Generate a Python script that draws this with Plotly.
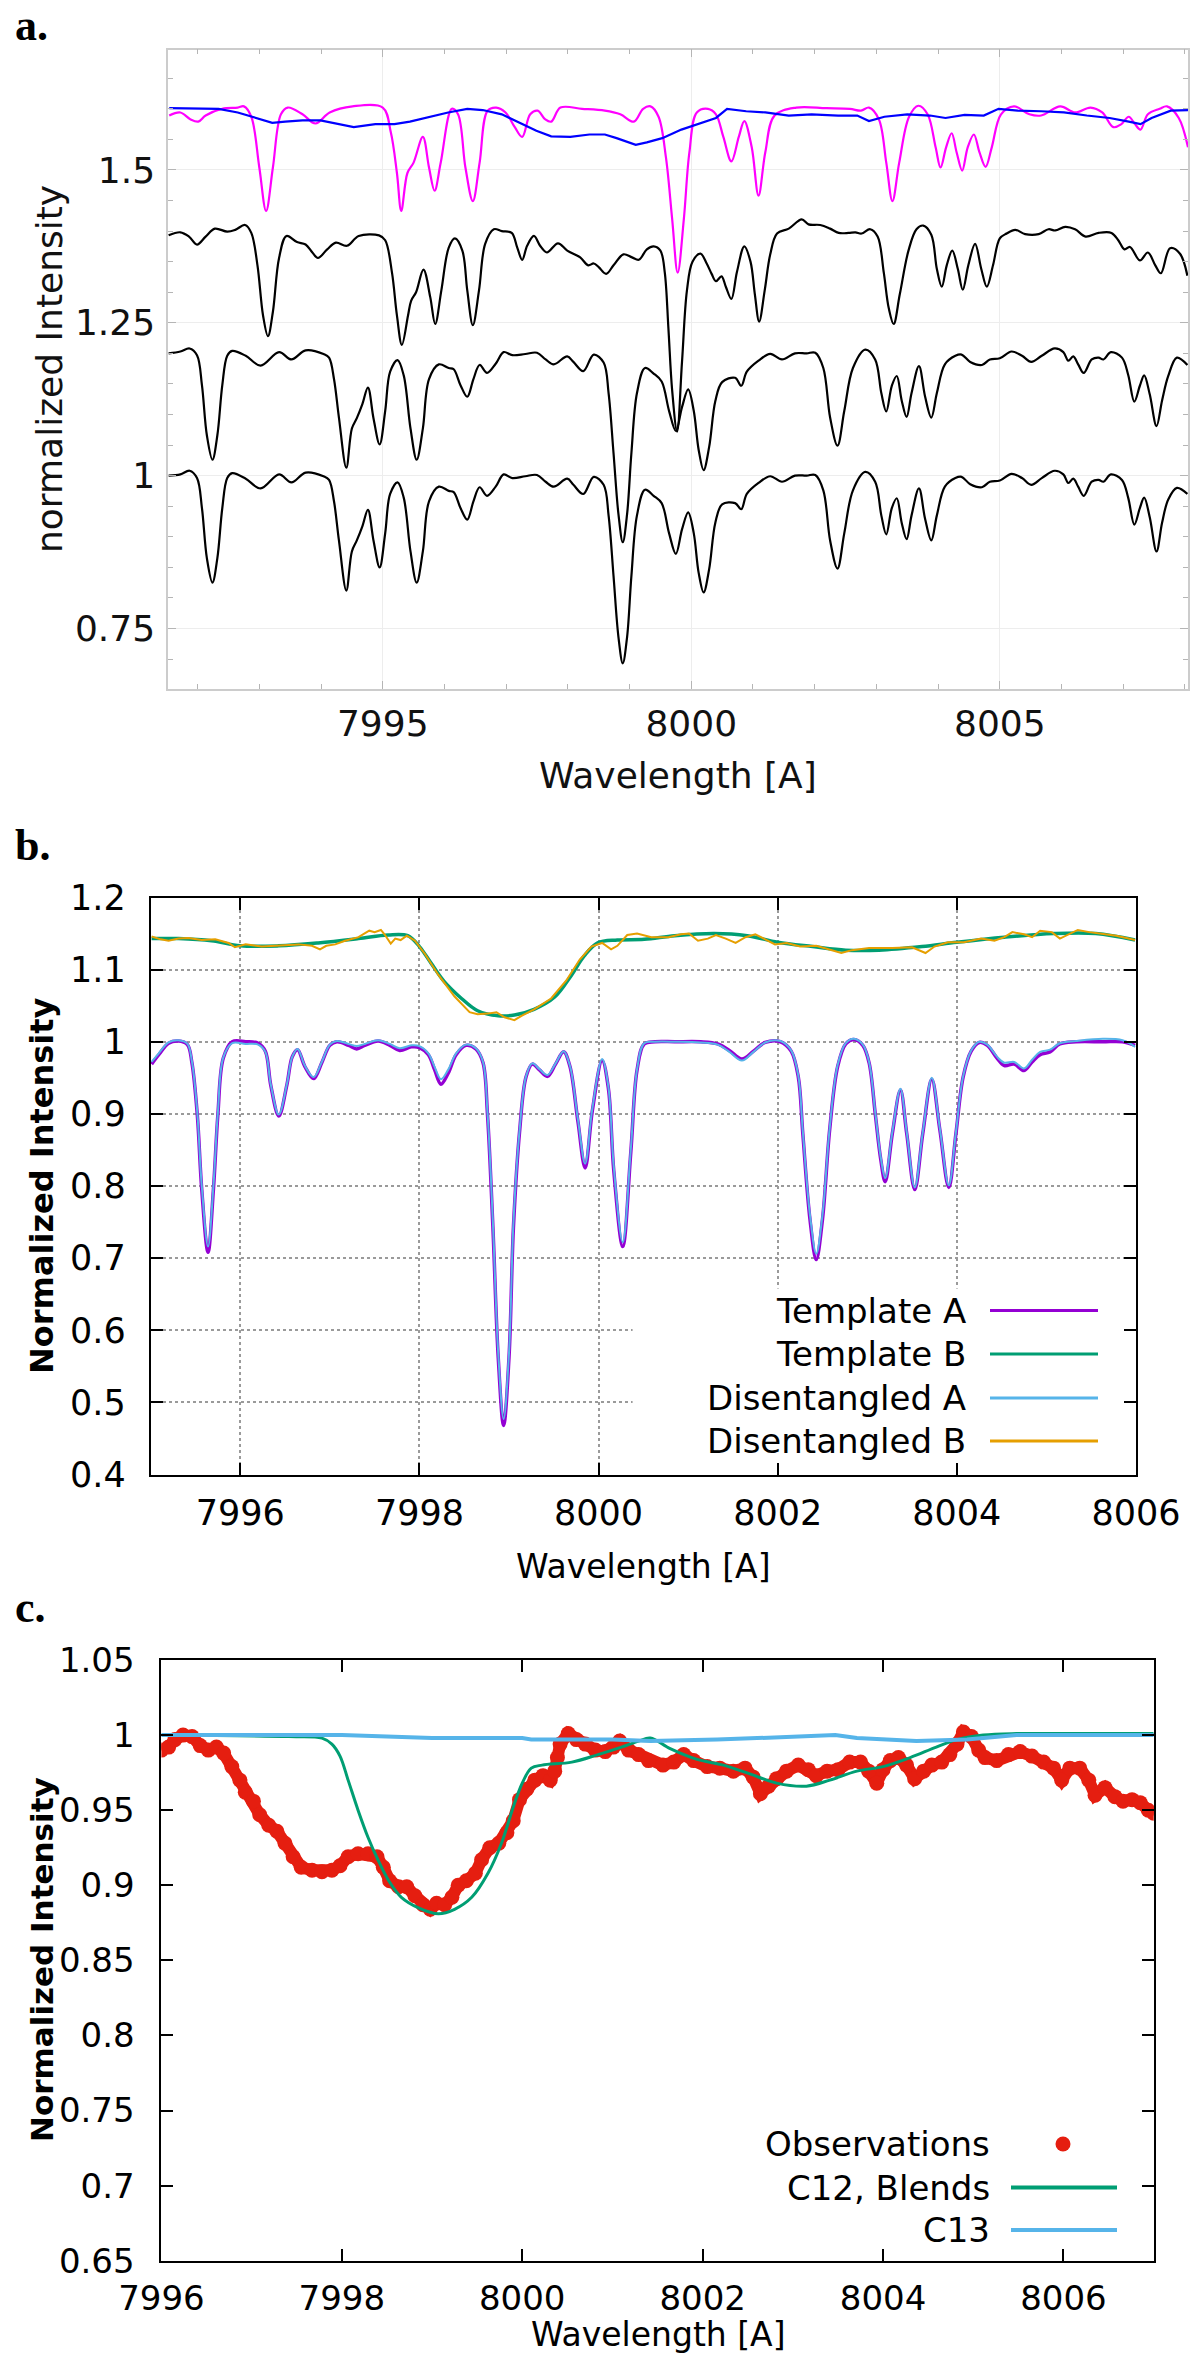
import plotly.graph_objects as go

# ---------------- panel a: offset spectra (wavelength in A) ----------------
wl_a_magenta = [
    7991.54, 7991.72, 7991.88, 7992.01, 7992.13, 7992.40, 7992.65, 7992.75, 7992.87, 7993.00,
    7993.11, 7993.22, 7993.35, 7993.46, 7993.70, 7993.91, 7994.14, 7994.51, 7995.00, 7995.13,
    7995.23, 7995.30, 7995.40, 7995.50, 7995.65, 7995.75, 7995.84, 7995.94, 7996.12, 7996.22,
    7996.34, 7996.46, 7996.57, 7996.70, 7996.84, 7996.99, 7997.14, 7997.26, 7997.39, 7997.51,
    7997.63, 7997.73, 7997.88, 7998.23, 7998.60, 7998.85, 7999.07, 7999.22, 7999.34, 7999.47,
    7999.59, 7999.69, 7999.78, 7999.88, 7999.97, 8000.09, 8000.27, 8000.40, 8000.52, 8000.65,
    8000.77, 8000.86, 8000.98, 8001.09, 8001.20, 8001.35, 8001.70, 8002.19, 8002.57, 8002.75,
    8002.88, 8003.04, 8003.16, 8003.26, 8003.37, 8003.53, 8003.68, 8003.83, 8003.96, 8004.04,
    8004.13, 8004.22, 8004.30, 8004.39, 8004.48, 8004.58, 8004.67, 8004.77, 8004.87, 8005.02,
    8005.23, 8005.48, 8005.67, 8005.98, 8006.22, 8006.47, 8006.66, 8006.84, 8006.97, 8007.09,
    8007.19, 8007.28, 8007.40, 8007.59, 8007.71, 8007.90, 8008.05]
flux_a_magenta = [
    1.589, 1.594, 1.583, 1.579, 1.589, 1.600, 1.602, 1.604, 1.587, 1.504,
    1.433, 1.504, 1.591, 1.602, 1.591, 1.576, 1.594, 1.604, 1.602, 1.562,
    1.495, 1.433, 1.495, 1.512, 1.554, 1.504, 1.466, 1.512, 1.600, 1.591,
    1.504, 1.449, 1.512, 1.597, 1.602, 1.594, 1.570, 1.554, 1.591, 1.597,
    1.583, 1.579, 1.602, 1.600, 1.597, 1.591, 1.579, 1.600, 1.604, 1.587,
    1.520, 1.420, 1.332, 1.420, 1.529, 1.594, 1.600, 1.591, 1.554, 1.514,
    1.554, 1.580, 1.537, 1.458, 1.529, 1.589, 1.602, 1.601, 1.600, 1.597,
    1.602, 1.583, 1.512, 1.449, 1.512, 1.587, 1.605, 1.591, 1.537, 1.504,
    1.537, 1.560, 1.529, 1.499, 1.537, 1.558, 1.529, 1.505, 1.537, 1.591,
    1.604, 1.591, 1.589, 1.604, 1.594, 1.602, 1.594, 1.570, 1.575, 1.587,
    1.575, 1.566, 1.591, 1.600, 1.604, 1.585, 1.537]

wl_a_blue = [
    7991.54, 7992.03, 7992.34, 7992.65, 7992.96, 7993.21, 7993.42, 7993.70, 7993.99, 7994.26,
    7994.53, 7994.88, 7995.19, 7995.44, 7995.69, 7996.06, 7996.37, 7996.62, 7996.93, 7997.18,
    7997.49, 7997.73, 7998.04, 7998.35, 7998.60, 7998.79, 7999.10, 7999.28, 7999.53, 7999.84,
    8000.15, 8000.40, 8000.58, 8000.89, 8001.20, 8001.58, 8001.95, 8002.38, 8002.69, 8002.88,
    8003.13, 8003.50, 8003.87, 8004.12, 8004.43, 8004.74, 8004.98, 8005.29, 8005.67, 8006.04,
    8006.41, 8006.78, 8007.09, 8007.28, 8007.46, 8007.77, 8008.05]
flux_a_blue = [
    1.601, 1.601, 1.600, 1.594, 1.585, 1.577, 1.579, 1.581, 1.581, 1.576,
    1.570, 1.575, 1.575, 1.579, 1.585, 1.594, 1.600, 1.598, 1.591, 1.579,
    1.564, 1.555, 1.554, 1.558, 1.558, 1.552, 1.541, 1.545, 1.552, 1.566,
    1.577, 1.585, 1.600, 1.596, 1.594, 1.589, 1.591, 1.589, 1.589, 1.580,
    1.587, 1.591, 1.589, 1.585, 1.590, 1.589, 1.600, 1.597, 1.596, 1.594,
    1.589, 1.585, 1.579, 1.575, 1.585, 1.597, 1.598]

wl_a_top = [
    7991.53, 7991.72, 7991.86, 7991.99, 7992.13, 7992.28, 7992.48, 7992.61, 7992.77, 7992.87,
    7992.97, 7993.06, 7993.14, 7993.22, 7993.32, 7993.44, 7993.61, 7993.75, 7993.86, 7993.95,
    7994.10, 7994.24, 7994.42, 7994.61, 7994.94, 7995.04, 7995.15, 7995.23, 7995.31, 7995.41,
    7995.46, 7995.54, 7995.66, 7995.77, 7995.85, 7995.95, 7996.07, 7996.17, 7996.29, 7996.37,
    7996.46, 7996.56, 7996.66, 7996.80, 7996.93, 7997.09, 7997.18, 7997.26, 7997.34, 7997.45,
    7997.55, 7997.66, 7997.84, 7997.99, 7998.20, 7998.33, 7998.42, 7998.50, 7998.62, 7998.74,
    7998.90, 7999.04, 7999.15, 7999.28, 7999.39, 7999.50, 7999.57, 7999.63, 7999.69, 7999.77,
    7999.85, 7999.93, 8000.02, 8000.15, 8000.25, 8000.33, 8000.40, 8000.49, 8000.56, 8000.65,
    8000.74, 8000.86, 8000.96, 8001.03, 8001.10, 8001.19, 8001.28, 8001.39, 8001.58, 8001.79,
    8001.90, 8002.09, 8002.25, 8002.39, 8002.55, 8002.66, 8002.76, 8002.90, 8003.02, 8003.12,
    8003.20, 8003.28, 8003.38, 8003.52, 8003.65, 8003.76, 8003.89, 8003.98, 8004.06, 8004.14,
    8004.23, 8004.32, 8004.40, 8004.49, 8004.60, 8004.70, 8004.79, 8004.89, 8005.00, 8005.11,
    8005.25, 8005.41, 8005.63, 8005.79, 8005.90, 8006.06, 8006.22, 8006.39, 8006.60, 8006.81,
    8006.92, 8007.02, 8007.11, 8007.27, 8007.40, 8007.52, 8007.61, 8007.76, 8007.92, 8008.04]
flux_a_top = [
    1.393, 1.398, 1.391, 1.378, 1.391, 1.404, 1.399, 1.402, 1.410, 1.397,
    1.344, 1.262, 1.228, 1.268, 1.356, 1.392, 1.382, 1.378, 1.365, 1.356,
    1.370, 1.381, 1.376, 1.392, 1.393, 1.385, 1.332, 1.262, 1.214, 1.262,
    1.286, 1.300, 1.337, 1.292, 1.248, 1.303, 1.373, 1.388, 1.368, 1.303,
    1.246, 1.303, 1.379, 1.403, 1.400, 1.397, 1.373, 1.353, 1.376, 1.392,
    1.376, 1.365, 1.380, 1.368, 1.357, 1.344, 1.347, 1.341, 1.330, 1.344,
    1.362, 1.357, 1.353, 1.370, 1.375, 1.368, 1.333, 1.240, 1.140, 1.072,
    1.186, 1.303, 1.350, 1.363, 1.347, 1.330, 1.318, 1.326, 1.309, 1.289,
    1.333, 1.375, 1.350, 1.297, 1.252, 1.303, 1.362, 1.396, 1.404, 1.419,
    1.411, 1.410, 1.404, 1.397, 1.397, 1.398, 1.396, 1.403, 1.391, 1.332,
    1.274, 1.248, 1.297, 1.368, 1.403, 1.409, 1.394, 1.338, 1.309, 1.344,
    1.368, 1.338, 1.304, 1.344, 1.379, 1.338, 1.309, 1.344, 1.388, 1.396,
    1.402, 1.395, 1.395, 1.403, 1.401, 1.407, 1.403, 1.391, 1.397, 1.397,
    1.385, 1.370, 1.374, 1.352, 1.365, 1.344, 1.331, 1.372, 1.363, 1.327]

wl_a_low = [
    7991.53, 7991.72, 7991.87, 7991.99, 7992.07, 7992.15, 7992.24, 7992.32, 7992.40, 7992.48,
    7992.56, 7992.78, 7993.02, 7993.32, 7993.52, 7993.75, 7994.04, 7994.13, 7994.21, 7994.29,
    7994.41, 7994.50, 7994.58, 7994.67, 7994.76, 7994.85, 7994.95, 7995.04, 7995.12, 7995.24,
    7995.34, 7995.45, 7995.55, 7995.65, 7995.75, 7995.91, 7996.07, 7996.15, 7996.26, 7996.37,
    7996.47, 7996.57, 7996.69, 7996.83, 7996.96, 7997.10, 7997.31, 7997.50, 7997.64, 7997.77,
    7997.99, 7998.09, 7998.25, 7998.42, 7998.58, 7998.66, 7998.74, 7998.82, 7998.89, 7998.96,
    7999.03, 7999.12, 7999.25, 7999.39, 7999.52, 7999.64, 7999.75, 7999.85, 7999.95, 8000.04,
    8000.12, 8000.20, 8000.29, 8000.39, 8000.50, 8000.71, 8000.81, 8000.90, 8001.09, 8001.28,
    8001.47, 8001.68, 8001.87, 8002.01, 8002.14, 8002.25, 8002.37, 8002.48, 8002.62, 8002.82,
    8002.98, 8003.08, 8003.16, 8003.25, 8003.33, 8003.41, 8003.49, 8003.57, 8003.69, 8003.79,
    8003.89, 8003.98, 8004.11, 8004.28, 8004.38, 8004.52, 8004.71, 8004.84, 8005.00, 8005.19,
    8005.36, 8005.51, 8005.68, 8005.89, 8006.03, 8006.11, 8006.19, 8006.27, 8006.36, 8006.49,
    8006.60, 8006.68, 8006.80, 8006.98, 8007.08, 8007.18, 8007.27, 8007.34, 8007.43, 8007.54,
    8007.63, 8007.73, 8007.87, 8008.04]
flux_a_mid = [
    1.200, 1.203, 1.208, 1.197, 1.148, 1.066, 1.026, 1.066, 1.148, 1.196,
    1.204, 1.196, 1.180, 1.202, 1.190, 1.205, 1.199, 1.193, 1.158, 1.095,
    1.013, 1.077, 1.094, 1.117, 1.144, 1.094, 1.051, 1.106, 1.170, 1.189,
    1.164, 1.077, 1.026, 1.077, 1.158, 1.182, 1.176, 1.174, 1.148, 1.129,
    1.158, 1.181, 1.168, 1.183, 1.202, 1.197, 1.199, 1.201, 1.190, 1.182,
    1.195, 1.186, 1.171, 1.198, 1.185, 1.135, 1.037, 0.937, 0.891, 0.937,
    1.037, 1.135, 1.176, 1.167, 1.154, 1.106, 1.073, 1.112, 1.141, 1.106,
    1.042, 1.009, 1.047, 1.122, 1.153, 1.160, 1.147, 1.170, 1.188, 1.199,
    1.190, 1.200, 1.200, 1.201, 1.176, 1.095, 1.049, 1.106, 1.176, 1.206,
    1.190, 1.135, 1.105, 1.147, 1.163, 1.123, 1.096, 1.135, 1.179, 1.129,
    1.095, 1.135, 1.182, 1.196, 1.198, 1.186, 1.181, 1.190, 1.192, 1.203,
    1.196, 1.186, 1.196, 1.208, 1.202, 1.188, 1.195, 1.182, 1.168, 1.190,
    1.193, 1.190, 1.202, 1.193, 1.165, 1.121, 1.147, 1.164, 1.133, 1.081,
    1.123, 1.163, 1.193, 1.181]
flux_a_bottom = [
    1.000, 1.002, 1.008, 0.996, 0.947, 0.865, 0.825, 0.865, 0.947, 0.996,
    1.004, 0.995, 0.979, 1.002, 0.989, 1.005, 0.999, 0.993, 0.958, 0.894,
    0.812, 0.876, 0.894, 0.917, 0.944, 0.894, 0.850, 0.906, 0.970, 0.989,
    0.964, 0.876, 0.825, 0.876, 0.958, 0.982, 0.975, 0.973, 0.947, 0.928,
    0.958, 0.981, 0.967, 0.982, 1.002, 0.996, 0.999, 1.001, 0.990, 0.982,
    0.995, 0.985, 0.970, 0.998, 0.985, 0.935, 0.836, 0.736, 0.693, 0.736,
    0.836, 0.935, 0.977, 0.967, 0.955, 0.906, 0.872, 0.912, 0.940, 0.906,
    0.841, 0.809, 0.847, 0.923, 0.953, 0.955, 0.945, 0.970, 0.988, 0.999,
    0.990, 1.000, 1.000, 1.001, 0.976, 0.894, 0.848, 0.906, 0.976, 1.006,
    0.990, 0.935, 0.904, 0.947, 0.963, 0.923, 0.896, 0.935, 0.979, 0.929,
    0.894, 0.935, 0.982, 0.996, 0.998, 0.986, 0.981, 0.990, 0.992, 1.003,
    0.996, 0.985, 0.996, 1.008, 1.002, 0.988, 0.995, 0.982, 0.967, 0.990,
    0.993, 0.990, 1.002, 0.993, 0.964, 0.920, 0.947, 0.964, 0.932, 0.876,
    0.923, 0.961, 0.980, 0.970]

# ---------------- panel b: templates vs disentangled ----------------
wl_b_a = [
    7995.01, 7995.09, 7995.20, 7995.31, 7995.41, 7995.46, 7995.52, 7995.57, 7995.64, 7995.70,
    7995.75, 7995.81, 7995.91, 7996.06, 7996.20, 7996.28, 7996.34, 7996.43, 7996.52, 7996.58,
    7996.64, 7996.72, 7996.82, 7996.91, 7997.00, 7997.08, 7997.21, 7997.30, 7997.39, 7997.54,
    7997.67, 7997.78, 7997.91, 7998.00, 7998.10, 7998.17, 7998.24, 7998.32, 7998.41, 7998.52,
    7998.63, 7998.71, 7998.76, 7998.82, 7998.88, 7998.94, 7999.00, 7999.05, 7999.12, 7999.19,
    7999.26, 7999.34, 7999.43, 7999.52, 7999.61, 7999.68, 7999.77, 7999.85, 7999.93, 8000.04,
    8000.11, 8000.17, 8000.27, 8000.36, 8000.43, 8000.51, 8000.63, 8000.85, 8001.14, 8001.33,
    8001.46, 8001.60, 8001.73, 8001.86, 8002.03, 8002.15, 8002.23, 8002.28, 8002.36, 8002.43,
    8002.50, 8002.58, 8002.67, 8002.76, 8002.85, 8002.95, 8003.02, 8003.09, 8003.15, 8003.20,
    8003.28, 8003.37, 8003.44, 8003.53, 8003.62, 8003.72, 8003.81, 8003.91, 8003.99, 8004.07,
    8004.16, 8004.25, 8004.34, 8004.45, 8004.53, 8004.64, 8004.75, 8004.84, 8004.93, 8005.04,
    8005.15, 8005.33, 8005.63, 8005.85, 8005.99]
flux_b_tmpl_a = [
    0.969, 0.982, 0.998, 1.001, 0.996, 0.971, 0.899, 0.795, 0.708, 0.795,
    0.899, 0.977, 1.000, 1.000, 0.998, 0.987, 0.940, 0.897, 0.940, 0.979,
    0.989, 0.966, 0.949, 0.971, 0.995, 1.000, 0.995, 0.990, 0.995, 1.001,
    0.995, 0.988, 0.993, 0.992, 0.982, 0.961, 0.941, 0.956, 0.982, 0.995,
    0.990, 0.971, 0.899, 0.744, 0.562, 0.468, 0.562, 0.744, 0.878, 0.951,
    0.969, 0.961, 0.952, 0.969, 0.986, 0.966, 0.889, 0.825, 0.904, 0.974,
    0.935, 0.821, 0.716, 0.847, 0.961, 0.997, 1.000, 1.000, 1.000, 0.997,
    0.988, 0.976, 0.987, 0.999, 1.000, 0.987, 0.951, 0.873, 0.754, 0.698,
    0.754, 0.878, 0.966, 0.997, 1.003, 0.995, 0.971, 0.899, 0.837, 0.806,
    0.873, 0.933, 0.873, 0.795, 0.873, 0.948, 0.878, 0.798, 0.873, 0.951,
    0.987, 0.999, 0.995, 0.977, 0.967, 0.969, 0.960, 0.972, 0.982, 0.986,
    0.997, 1.000, 1.000, 1.000, 0.995]
flux_b_dis_a = [
    0.972, 0.984, 0.999, 1.002, 0.997, 0.973, 0.902, 0.800, 0.716, 0.800,
    0.902, 0.978, 0.998, 0.997, 0.996, 0.986, 0.941, 0.899, 0.941, 0.979,
    0.990, 0.967, 0.951, 0.972, 0.996, 1.001, 0.997, 0.994, 0.997, 1.002,
    0.997, 0.991, 0.995, 0.994, 0.984, 0.965, 0.948, 0.961, 0.984, 0.996,
    0.991, 0.972, 0.902, 0.750, 0.568, 0.477, 0.568, 0.750, 0.880, 0.952,
    0.970, 0.962, 0.954, 0.970, 0.987, 0.967, 0.892, 0.831, 0.907, 0.976,
    0.937, 0.826, 0.722, 0.851, 0.962, 0.998, 1.000, 1.000, 0.999, 0.996,
    0.986, 0.974, 0.986, 0.999, 1.001, 0.988, 0.953, 0.876, 0.760, 0.706,
    0.760, 0.880, 0.968, 0.998, 1.004, 0.996, 0.972, 0.901, 0.840, 0.811,
    0.875, 0.935, 0.875, 0.798, 0.875, 0.950, 0.880, 0.801, 0.875, 0.952,
    0.988, 1.000, 0.996, 0.979, 0.971, 0.972, 0.963, 0.975, 0.986, 0.989,
    0.998, 1.001, 1.004, 1.002, 0.993]

wl_b_tmpl_b = [
    7995.01, 7995.31, 7995.68, 7996.00, 7996.43, 7996.87, 7997.32, 7997.65, 7997.87, 7998.00,
    7998.13, 7998.28, 7998.47, 7998.65, 7998.88, 7999.06, 7999.28, 7999.51, 7999.69, 7999.84,
    7999.99, 8000.21, 8000.51, 8000.85, 8001.29, 8001.66, 8002.00, 8002.39, 8002.76, 8003.13,
    8003.61, 8004.00, 8004.53, 8005.08, 8005.55, 8005.99]
flux_b_tmpl_b = [
    1.143, 1.143, 1.140, 1.133, 1.133, 1.137, 1.143, 1.148, 1.147, 1.132,
    1.109, 1.083, 1.060, 1.043, 1.036, 1.037, 1.045, 1.062, 1.091, 1.119,
    1.137, 1.141, 1.142, 1.147, 1.150, 1.147, 1.138, 1.132, 1.127, 1.127,
    1.132, 1.138, 1.145, 1.150, 1.150, 1.141]

wl_b_dis_b = [
    7995.01, 7995.11, 7995.20, 7995.31, 7995.42, 7995.57, 7995.72, 7995.87, 7995.94, 7996.06,
    7996.24, 7996.43, 7996.65, 7996.80, 7996.89, 7996.96, 7997.06, 7997.17, 7997.32, 7997.44,
    7997.50, 7997.57, 7997.61, 7997.68, 7997.73, 7997.79, 7997.86, 7997.95, 7998.06, 7998.21,
    7998.39, 7998.56, 7998.65, 7998.76, 7998.86, 7998.95, 7999.06, 7999.14, 7999.28, 7999.47,
    7999.64, 7999.79, 7999.92, 8000.04, 8000.14, 8000.21, 8000.32, 8000.43, 8000.51, 8000.59,
    8000.78, 8000.92, 8001.01, 8001.11, 8001.22, 8001.31, 8001.42, 8001.53, 8001.64, 8001.75,
    8001.86, 8001.97, 8002.10, 8002.25, 8002.43, 8002.58, 8002.71, 8002.83, 8003.02, 8003.28,
    8003.50, 8003.65, 8003.75, 8003.90, 8004.08, 8004.27, 8004.42, 8004.53, 8004.62, 8004.75,
    8004.84, 8004.93, 8005.06, 8005.15, 8005.26, 8005.35, 8005.48, 8005.63, 8005.78, 8005.99]
flux_b_dis_b = [
    1.146, 1.142, 1.140, 1.143, 1.144, 1.141, 1.142, 1.137, 1.131, 1.135,
    1.132, 1.133, 1.135, 1.133, 1.128, 1.133, 1.135, 1.140, 1.145, 1.154,
    1.152, 1.155, 1.149, 1.136, 1.143, 1.141, 1.147, 1.140, 1.122, 1.093,
    1.063, 1.041, 1.038, 1.039, 1.041, 1.034, 1.030, 1.036, 1.045, 1.060,
    1.085, 1.114, 1.132, 1.137, 1.128, 1.133, 1.148, 1.150, 1.147, 1.145,
    1.145, 1.149, 1.150, 1.140, 1.143, 1.148, 1.143, 1.137, 1.145, 1.149,
    1.142, 1.135, 1.137, 1.132, 1.133, 1.128, 1.123, 1.127, 1.130, 1.130,
    1.131, 1.123, 1.132, 1.138, 1.138, 1.143, 1.140, 1.145, 1.152, 1.149,
    1.145, 1.154, 1.152, 1.143, 1.150, 1.155, 1.152, 1.149, 1.147, 1.141]

legend_b = ["Template A", "Template B", "Disentangled A", "Disentangled B"]

# ---------------- panel c: observations vs synthetic ----------------
wl_c_obs = [
    7996.00, 7996.08, 7996.15, 7996.24, 7996.34, 7996.43, 7996.52, 7996.61, 7996.69, 7996.78,
    7996.87, 7996.93, 7997.02, 7997.09, 7997.19, 7997.28, 7997.37, 7997.46, 7997.55, 7997.67,
    7997.78, 7997.89, 7997.98, 7998.07, 7998.18, 7998.29, 7998.39, 7998.46, 7998.53, 7998.63,
    7998.72, 7998.81, 7998.90, 7998.98, 7999.05, 7999.14, 7999.22, 7999.29, 7999.38, 7999.48,
    7999.55, 7999.64, 7999.74, 7999.83, 7999.90, 7999.97, 8000.05, 8000.14, 8000.23, 8000.31,
    8000.36, 8000.39, 8000.42, 8000.51, 8000.60, 8000.70, 8000.81, 8000.92, 8001.01, 8001.08,
    8001.18, 8001.29, 8001.40, 8001.56, 8001.68, 8001.79, 8001.90, 8002.05, 8002.19, 8002.34,
    8002.47, 8002.56, 8002.64, 8002.73, 8002.82, 8002.93, 8003.06, 8003.17, 8003.26, 8003.38,
    8003.50, 8003.63, 8003.75, 8003.84, 8003.93, 8004.00, 8004.08, 8004.17, 8004.26, 8004.35,
    8004.45, 8004.54, 8004.65, 8004.74, 8004.82, 8004.89, 8004.98, 8005.06, 8005.13, 8005.26,
    8005.39, 8005.52, 8005.65, 8005.78, 8005.89, 8005.98, 8006.07, 8006.18, 8006.28, 8006.35,
    8006.46, 8006.57, 8006.66, 8006.76, 8006.85, 8006.94, 8007.00]
flux_c_obs = [
    0.990, 0.992, 0.997, 1.000, 0.999, 0.993, 0.990, 0.992, 0.988, 0.979,
    0.970, 0.962, 0.956, 0.947, 0.940, 0.936, 0.928, 0.919, 0.912, 0.910,
    0.909, 0.910, 0.913, 0.919, 0.921, 0.921, 0.919, 0.912, 0.903, 0.899,
    0.899, 0.893, 0.887, 0.884, 0.888, 0.887, 0.892, 0.900, 0.903, 0.908,
    0.917, 0.925, 0.928, 0.935, 0.943, 0.957, 0.964, 0.970, 0.973, 0.970,
    0.976, 0.985, 0.994, 1.001, 0.997, 0.994, 0.990, 0.989, 0.992, 0.996,
    0.990, 0.987, 0.983, 0.980, 0.982, 0.987, 0.983, 0.979, 0.978, 0.976,
    0.978, 0.972, 0.961, 0.966, 0.971, 0.976, 0.980, 0.977, 0.973, 0.976,
    0.977, 0.982, 0.982, 0.976, 0.968, 0.977, 0.983, 0.985, 0.980, 0.971,
    0.976, 0.980, 0.982, 0.987, 0.994, 1.002, 0.999, 0.990, 0.985, 0.983,
    0.987, 0.989, 0.986, 0.982, 0.978, 0.970, 0.978, 0.978, 0.970, 0.960,
    0.965, 0.959, 0.956, 0.957, 0.955, 0.950, 0.948]

wl_c_c12 = [
    7996.00, 7997.41, 7997.78, 7997.89, 7997.98, 7998.07, 7998.18, 7998.29, 7998.40, 7998.52,
    7998.66, 7998.85, 7999.07, 7999.25, 7999.44, 7999.62, 7999.77, 7999.90, 8000.00, 8000.10,
    8000.22, 8000.55, 8000.84, 8001.10, 8001.29, 8001.42, 8001.64, 8001.93, 8002.23, 8002.53,
    8002.82, 8003.15, 8003.41, 8003.71, 8004.00, 8004.30, 8004.59, 8004.82, 8005.11, 8005.48,
    8006.20, 8007.00]
flux_c_c12 = [
    1.000, 0.999, 0.998, 0.994, 0.986, 0.970, 0.950, 0.932, 0.917, 0.903,
    0.892, 0.885, 0.881, 0.884, 0.892, 0.908, 0.928, 0.952, 0.968, 0.978,
    0.980, 0.982, 0.987, 0.992, 0.996, 0.998, 0.991, 0.984, 0.980, 0.974,
    0.968, 0.966, 0.970, 0.976, 0.979, 0.985, 0.992, 0.997, 1.000, 1.001,
    1.001, 1.001]

wl_c_c13 = [
    7996.00, 7997.30, 7998.00, 7998.50, 7999.00, 8000.00, 8000.10, 8001.00, 8001.42, 8002.16,
    8003.08, 8003.47, 8003.71, 8004.37, 8004.93, 8005.48, 8007.00]
flux_c_c13 = [
    1.000, 1.000, 1.000, 0.999, 0.998, 0.998, 0.997, 0.997, 0.996, 0.997,
    0.999, 1.000, 0.998, 0.996, 0.997, 1.000, 1.000]

legend_c = ["Observations", "C12, Blends", "C13"]

for xs, ys in [(wl_a_magenta, flux_a_magenta), (wl_a_blue, flux_a_blue), (wl_a_top, flux_a_top),
               (wl_a_low, flux_a_mid), (wl_a_low, flux_a_bottom), (wl_b_a, flux_b_tmpl_a),
               (wl_b_a, flux_b_dis_a), (wl_b_tmpl_b, flux_b_tmpl_b), (wl_b_dis_b, flux_b_dis_b),
               (wl_c_obs, flux_c_obs), (wl_c_c12, flux_c_c12), (wl_c_c13, flux_c_c13)]:
    assert len(xs) == len(ys), (len(xs), len(ys))

W, H = 1200, 2353
GP_FONT = "DejaVu Sans"


def dom_x(x0, x1):
    return [x0 / W, x1 / W]


def dom_y(y0, y1):
    return [1 - y1 / H, 1 - y0 / H]


fig = go.Figure()


def spec(x, y, color, width, axis, shape="spline", smooth=1.0):
    fig.add_trace(go.Scatter(
        x=x, y=y, mode="lines", showlegend=False, hoverinfo="skip",
        line=dict(color=color, width=width, shape=shape, smoothing=smooth),
        xaxis="x" + axis, yaxis="y" + axis))


# panel a
spec(wl_a_magenta, flux_a_magenta, "#ff00ff", 2.2, "")
spec(wl_a_blue, flux_a_blue, "#0000ff", 2.2, "", shape="linear")
spec(wl_a_top, flux_a_top, "black", 2.2, "")
spec(wl_a_low, flux_a_mid, "black", 2.2, "")
spec(wl_a_low, flux_a_bottom, "black", 2.2, "")

# panel b
spec(wl_b_a, flux_b_tmpl_a, "#9400d3", 3.5, "2")
spec(wl_b_tmpl_b, flux_b_tmpl_b, "#009e73", 3.5, "2")
spec(wl_b_a, flux_b_dis_a, "#56b4e9", 2, "2")
spec(wl_b_dis_b, flux_b_dis_b, "#e69f00", 2, "2", shape="linear")

# panel c: the dense observation dots read as one thick band
fig.add_trace(go.Scatter(
    x=wl_c_obs, y=flux_c_obs, mode="lines+markers", showlegend=False, hoverinfo="skip",
    line=dict(color="#e51e10", width=12),
    marker=dict(color="#e51e10", size=15, line=dict(width=0)),
    xaxis="x3", yaxis="y3"))
spec(wl_c_c12, flux_c_c12, "#009e73", 3, "3")
spec(wl_c_c13, flux_c_c13, "#56b4e9", 4, "3", shape="linear")

a_font = dict(family=GP_FONT, size=36, color="#111111")
a_axis = dict(showline=True, linecolor="#cccccc", linewidth=1.5, mirror="allticks",
              ticks="inside", ticklen=8, tickcolor="#b5b5b5", tickwidth=1,
              showgrid=True, gridcolor="#ededed", gridwidth=1, zeroline=False,
              automargin=False, tickfont=a_font)
gp_axis = dict(showline=True, linecolor="black", linewidth=2, mirror="allticks",
               ticks="inside", ticklen=12, tickwidth=2, tickcolor="black",
               zeroline=False, automargin=False,
               tickfont=dict(family=GP_FONT, size=34, color="black"))

fig.update_layout(
    width=W, height=H, margin=dict(l=0, r=0, t=0, b=0, autoexpand=False),
    paper_bgcolor="white", plot_bgcolor="white", showlegend=False,
    xaxis=dict(a_axis, domain=dom_x(168, 1188), anchor="y", range=[7991.52, 8008.05],
               tick0=7995, dtick=5, ticklabelstandoff=2,
               minor=dict(dtick=1, tick0=7995, ticks="inside", ticklen=5, tickcolor="#b5b5b5",
                          showgrid=False)),
    yaxis=dict(a_axis, domain=dom_y(49.5, 689), anchor="x", range=[0.651, 1.697],
               tick0=0, dtick=0.25, ticklabelstandoff=4,
               minor=dict(dtick=0.05, tick0=0, ticks="inside", ticklen=5, tickcolor="#b5b5b5",
                          showgrid=False)),
    xaxis2=dict(gp_axis, domain=dom_x(150.7, 1136), anchor="y2", range=[7995, 8006],
                tick0=7996, dtick=2, ticklabelstandoff=6,
                tickfont=dict(family=GP_FONT, size=35, color="black"),
                showgrid=True, gridcolor="#9a9a9a", griddash="dot", gridwidth=1.5),
    yaxis2=dict(gp_axis, domain=dom_y(897.5, 1474.5), anchor="x2", range=[0.4, 1.2],
                tick0=0, dtick=0.1, ticklabelstandoff=16,
                tickfont=dict(family=GP_FONT, size=35, color="black"),
                showgrid=True, gridcolor="#9a9a9a", griddash="dot", gridwidth=1.5),
    xaxis3=dict(gp_axis, domain=dom_x(161.4, 1153.7), anchor="y3", range=[7996, 8007],
                tick0=7996, dtick=2, ticklabelstandoff=6, showgrid=False),
    yaxis3=dict(gp_axis, domain=dom_y(1660, 2260.7), anchor="x3", range=[0.65, 1.05],
                tick0=0, dtick=0.05, ticklabelstandoff=18, showgrid=False),
)

# opaque key area of panel b hides the grid behind it
fig.add_shape(type="rect", xref="x2", yref="y2", x0=8000.38, x1=8006, y0=0.4, y1=0.658,
              fillcolor="white", line=dict(width=0), layer="between")


def text(t, x, y, size, family=GP_FONT, angle=0, xanchor="center", yanchor="middle",
         weight="normal", color="black"):
    fig.add_annotation(text=t, x=x / W, y=1 - y / H, xref="paper", yref="paper",
                       showarrow=False, xanchor=xanchor, yanchor=yanchor, textangle=angle,
                       borderpad=0, font=dict(family=family, size=size, color=color,
                                              weight=weight))


def key_line(x0, x1, y, color, width):
    fig.add_shape(type="line", xref="paper", yref="paper", x0=x0 / W, x1=x1 / W,
                  y0=1 - y / H, y1=1 - y / H, line=dict(color=color, width=width))


# panel labels
text("a.", 14, 0, 44, family="Liberation Serif", xanchor="left", yanchor="top",
     weight="bold")
text("b.", 14, 846, 44, family="Liberation Serif", xanchor="left", weight="bold")
text("c.", 14, 1608, 44, family="Liberation Serif", xanchor="left", weight="bold")

# axis titles
text("Wavelength [A]", 678, 775, 36, color="#111111")
text("normalized Intensity", 50, 369, 36, angle=-90, color="#111111")
text("Wavelength [A]", 643, 1566, 33)
text("Normalized Intensity", 42, 1186, 32, angle=-90, weight="bold")
text("Wavelength [A]", 658, 2334, 33)
text("Normalized Intensity", 42, 1960, 31, angle=-90, weight="bold")

# panel b key
colors_b = ["#9400d3", "#009e73", "#56b4e9", "#e69f00"]
rows_b = [1310.6, 1353.9, 1397.9, 1441]
for name, col, yy in zip(legend_b, colors_b, rows_b):
    text(name, 967, yy, 34, xanchor="right")
    key_line(990, 1098, yy, col, 3)

# panel c key
rows_c = [2144, 2187.5, 2230]
for name, yy in zip(legend_c, rows_c):
    text(name, 991, yy, 34, xanchor="right")
fig.add_shape(type="circle", xref="paper", yref="paper",
              x0=(1063 - 7.5) / W, x1=(1063 + 7.5) / W,
              y0=1 - (rows_c[0] + 7.5) / H, y1=1 - (rows_c[0] - 7.5) / H,
              fillcolor="#e51e10", line=dict(width=0))
key_line(1011, 1117, rows_c[1], "#009e73", 4)
key_line(1011, 1117, rows_c[2], "#56b4e9", 4)

# the page's default body margin would shift the 1200x2353 figure off the window
fig.write_html("out.html", config={"displayModeBar": False},
               post_script="document.body.style.margin = '0px';")
